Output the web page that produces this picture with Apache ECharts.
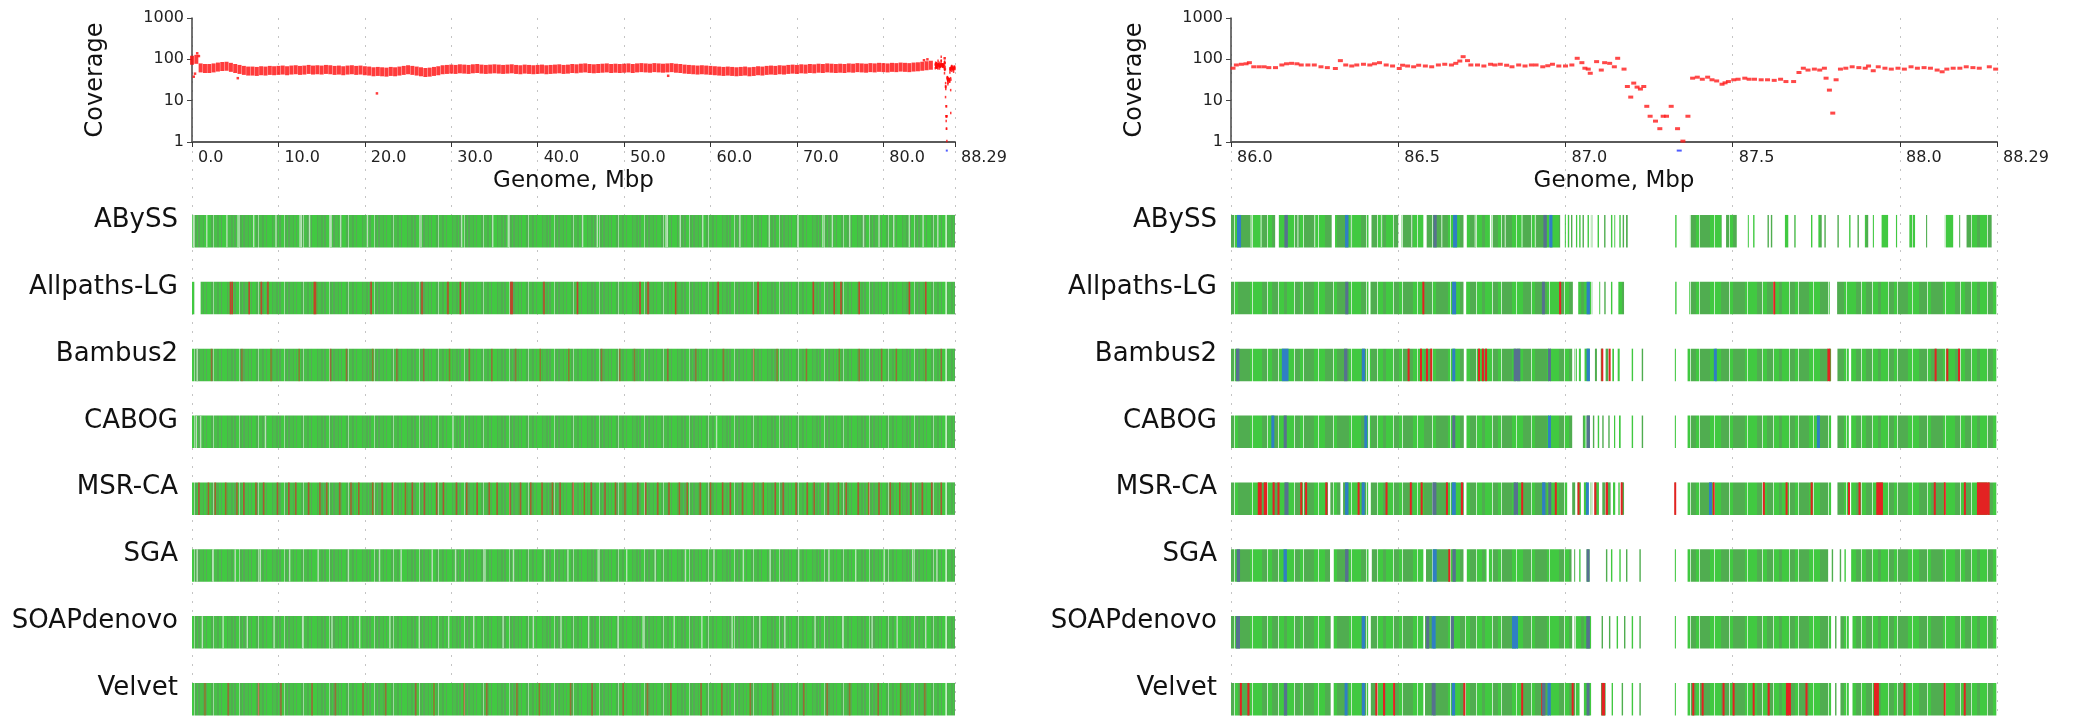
<!DOCTYPE html>
<html><head><meta charset="utf-8">
<script src="https://cdn.jsdelivr.net/npm/echarts/dist/echarts.min.js"></script>
<style>html,body{margin:0;padding:0;background:#fff}#c{width:2073px;height:717px}</style>
</head><body><div id="c"></div>
<script>
// ---------------- DATA ----------------
const assemblers = ['ABySS','Allpaths-LG','Bambus2','CABOG','MSR-CA','SGA','SOAPdenovo','Velvet'];
const genomeLen = 88.29;
const leftTicks = [0,10,20,30,40,50,60,70,80,88.29];
const rightTicks = [86.0,86.5,87.0,87.5,88.0,88.29];
const yTicks = [1,10,100,1000];

// left coverage, 0.5 Mbp bins starting at 0.0
const leftBinSize = 0.5;
const leftCoverage = [
 95,100,62,60,60,62,65,67,68,64,
 60,57,54,52,52,51,53,52,54,53,
 54,55,53,55,56,54,55,57,55,56,
 55,57,56,54,55,53,55,56,54,55,
 53,52,50,51,50,49,51,50,52,54,
 56,54,52,50,48,49,51,53,56,57,
 58,57,59,58,57,59,60,58,57,58,
 59,58,57,58,59,57,56,58,57,56,
 57,58,56,57,58,59,57,58,60,59,
 61,62,60,59,60,61,62,60,61,60,
 61,62,60,62,63,62,61,63,62,61,
 62,63,61,60,58,57,56,55,56,55,
 54,53,52,51,52,51,50,51,52,50,
 51,53,52,54,55,54,56,55,57,58,
 57,59,58,60,59,61,60,62,61,60,
 61,60,62,61,63,62,61,63,62,64,
 63,62,64,63,65,64,63,65,66,68,
 70,72];
const leftOutlierPos = [0.2,0.35,0.6,0.8,5.3,21.4,55.1,84.7,85.1];
const leftOutlierCov = [38,45,140,120,35,15,40,95,100];

// right coverage (zoomed region 86.0 - 88.29 Mbp)
const rightPos = [86.006,86.016,86.031,86.045,86.055,86.068,86.084,86.099,86.113,86.133,86.152,86.166,86.181,86.197,86.210,86.230,86.249,86.269,86.288,86.312,86.327,86.343,86.361,86.376,86.396,86.415,86.429,86.444,86.464,86.483,86.503,86.513,86.528,86.546,86.561,86.581,86.600,86.620,86.639,86.659,86.672,86.684,86.694,86.707,86.717,86.737,86.756,86.776,86.789,86.805,86.824,86.840,86.860,86.879,86.898,86.912,86.932,86.947,86.961,86.980,87.000,87.019,87.035,87.049,87.058,87.068,87.074,87.093,87.107,87.117,87.132,87.146,87.156,87.175,87.185,87.195,87.204,87.214,87.224,87.234,87.243,87.253,87.269,87.282,87.292,87.302,87.316,87.335,87.351,87.366,87.380,87.394,87.409,87.425,87.438,87.452,87.468,87.477,87.487,87.503,87.516,87.536,87.549,87.565,87.585,87.604,87.624,87.643,87.659,87.682,87.698,87.711,87.725,87.744,87.760,87.774,87.779,87.789,87.799,87.809,87.822,87.838,87.857,87.877,87.896,87.906,87.920,87.935,87.955,87.974,87.994,88.013,88.033,88.052,88.072,88.091,88.111,88.126,88.140,88.159,88.179,88.198,88.218,88.237,88.267,88.286];
const rightCoverage = [61,73,76,78,83,66,66,66,63,63,73,78,80,78,73,73,73,66,63,60,93,73,69,73,76,73,78,83,73,69,60,72,69,66,72,69,66,73,76,73,80,91,116,93,73,73,69,76,73,76,72,66,73,69,73,73,66,70,76,69,69,73,106,83,61,58,46,88,55,83,80,66,106,58,22,12.2,26.6,21.3,19.1,22,7.3,4.2,3.2,2.1,4.2,4.2,7.3,2.1,1.05,4.2,35,37,33,37,32,30,25,27,29,32,33,35,33,33,32,32,31,33,29,29,48,61,55,58,55,61,35,18,5,32,58,61,66,63,61,69,53,66,61,58,61,58,66,61,63,61,55,50,58,61,61,66,63,61,66,58];
// zero-coverage region (drawn below the axis)
const zeroPos = [87.34];
const zeroCov = [0.62];

// ---- left panel (whole genome) tracks ----
const leftContigsCommon = [[0,87.19],[87.33,88.29]];
const allpathsLeftContigs = [[0,0.3],[1.0,87.19],[87.33,88.29]];
const abyssLeftLight = [0.16,1.71,4.04,5.33,7.14,9.72,12.5,12.65,13.6,16.0,16.1,17.2,20.3,26.5,31.2,34.8,36.6,45.2,46.9,54.85,55.0,56.5,59.1,63.4,66.8,70.1,73.0,74.1,76.1,77.7,79.5,81.2,83.0,84.6,86.3];
const allpathsLeftRed = [4.45,4.65,6.62,8.02,8.79,14.15,14.3,20.73,26.62,29.62,31.06,36.9,37.05,40.73,44.6,51.84,52.77,55.97,60.88,65.5,71.9,74.32,75.1,77.2,83.0,84.9];
const bambusLeftLight = [0.6];
const bambusLeftRed = [2.26,5.78,9.15,12.4,16.03,17.87,20.9,23.7,26.8,29.8,32.1,34.7,37.45,40.3,43.6,47.4,49.5,51.2,55.05,58.3,61.5,65.0,67.7,71.1,74.9,77.2,79.8,81.5,84.9,86.7];
const cabogLeftLight = [0.5,1.0,8.5,30.2,60.7];
const msrcaLeftRed = [0.8,1.9,2.7,3.9,5.2,6.0,7.4,8.3,9.9,11.2,12.0,13.5,14.8,15.6,17.1,18.4,19.3,20.9,22.0,23.2,24.7,25.5,26.9,28.3,29.1,30.6,31.8,33.0,34.4,35.3,36.8,38.0,39.2,40.5,41.7,42.6,44.1,45.4,46.2,47.8,49.0,50.1,51.6,52.5,53.9,55.2,56.4,57.3,58.8,60.0,61.4,62.3,63.7,65.0,66.1,67.5,68.4,69.9,71.2,72.0,73.6,74.8,75.7,77.1,78.3,79.5,80.8,81.9,83.2,84.5,85.6,86.7];
const sgaLeftLight = [0.6,2.4,5.0,7.9,11.3,14.6,18.1,21.7,24.2,27.8,30.5,33.9,37.2,40.8,43.5,47.0,50.3,53.6,57.1,60.4,63.8,66.9,70.2,73.7,76.8,80.1,83.4,86.2];
const soapLeftLight = [1.2,3.6,6.4,9.5,12.8,16.2,19.4,22.9,26.3,29.7,32.6,36.0,39.5,42.7,45.9,49.3,52.2,55.8,59.0,62.5,65.7,68.6,72.1,75.3,78.7,81.6,84.9];
const velvetLeftRed = [1.5,4.2,7.7,10.3,13.9,16.6,19.8,22.4,25.9,28.0,31.5,34.1,37.6,40.2,43.8,46.3,49.9,52.7,55.4,58.9,61.3,64.6,67.2,70.8,73.5,76.1,79.4,82.0,84.8];

// ---- right panel (86.0 - 88.29 Mbp) tracks ----
const abyssRightContigs = [[86.000,86.132],[86.142,86.301],[86.311,86.411],[86.420,86.500],[86.510,86.575],[86.585,86.695],[86.705,86.774],[86.779,86.984],[86.997,87.001],[87.007,87.011],[87.017,87.020],[87.031,87.035],[87.041,87.045],[87.051,87.055],[87.066,87.070],[87.076,87.080],[87.096,87.100],[87.116,87.119],[87.136,87.140],[87.146,87.150],[87.161,87.165],[87.171,87.175],[87.181,87.186],[87.328,87.332],[87.372,87.467],[87.480,87.512],[87.544,87.548],[87.561,87.565],[87.604,87.608],[87.614,87.618],[87.656,87.666],[87.684,87.688],[87.734,87.738],[87.756,87.766],[87.774,87.778],[87.813,87.817],[87.848,87.852],[87.873,87.877],[87.895,87.905],[87.918,87.922],[87.945,87.965],[87.988,87.992],[88.028,88.045],[88.078,88.082],[88.134,88.159],[88.177,88.181],[88.199,88.274]];
const abyssRightMarks = [[86.018,86.030,'b'],[86.160,86.170,'s'],[86.341,86.351,'b'],[86.605,86.615,'s'],[86.664,86.676,'b'],[86.934,86.944,'s'],[86.951,86.961,'b'],[86.06,86.06,'w'],[86.09,86.09,'w'],[86.20,86.20,'w'],[86.25,86.25,'w'],[86.36,86.36,'w'],[86.45,86.45,'w'],[86.54,86.54,'w'],[86.63,86.63,'w'],[86.73,86.73,'w'],[86.82,86.82,'w'],[86.87,86.87,'w'],[86.91,86.91,'w']];
const allpathsRightContigs = [[86.0,86.411],[86.417,86.695],[86.703,87.022],[87.038,87.080],[87.101,87.105],[87.116,87.120],[87.136,87.140],[87.158,87.175],[87.328,87.332],[87.370,87.790],[87.812,88.290]];
const allpathsRightMarks = [[86.342,86.350,'s'],[86.573,86.577,'r'],[86.661,86.673,'b'],[86.930,86.938,'s'],[86.982,86.986,'r'],[87.063,87.073,'b'],[87.622,87.626,'r']];
const bambusRightContigs = [[86.0,86.41],[86.415,86.696],[86.704,87.02],[87.027,87.034],[87.040,87.046],[87.057,87.072],[87.088,87.094],[87.104,87.112],[87.120,87.128],[87.140,87.145],[87.156,87.162],[87.198,87.202],[87.228,87.232],[87.326,87.330],[87.365,87.794],[87.813,87.847],[87.854,88.290]];
const bambusRightMarks = [[86.015,86.025,'s'],[86.152,86.172,'b'],[86.338,86.348,'s'],[86.392,86.400,'b'],[86.663,86.669,'b'],[86.845,86.865,'s'],[86.948,86.956,'s'],[87.063,87.073,'b'],[87.444,87.452,'b'],[86.528,86.534,'r'],[86.565,86.571,'r'],[86.583,86.589,'r'],[86.596,86.601,'r'],[86.739,86.744,'r'],[86.750,86.756,'r'],[86.760,86.765,'r'],[87.108,87.112,'r'],[87.130,87.134,'r'],[87.783,87.792,'r'],[88.105,88.108,'r'],[88.140,88.143,'r'],[88.175,88.178,'r']];
const cabogRightContigs = [[86.0,86.41],[86.415,86.696],[86.704,87.02],[87.052,87.060],[87.063,87.073],[87.082,87.086],[87.097,87.100],[87.110,87.114],[87.128,87.132],[87.145,87.150],[87.160,87.165],[87.198,87.202],[87.228,87.232],[87.326,87.330],[87.365,87.794],[87.813,87.847],[87.854,88.290]];
const cabogRightMarks = [[86.121,86.129,'b'],[86.158,86.166,'s'],[86.399,86.407,'b'],[86.662,86.670,'s'],[86.948,86.956,'b'],[87.063,87.073,'s'],[87.754,87.758,'b']];
const msrcaRightContigs = [[86.0,86.290],[86.297,86.327],[86.335,86.41],[86.418,86.696],[86.704,87.005],[87.020,87.030],[87.036,87.046],[87.055,87.065],[87.075,87.080],[87.087,87.100],[87.110,87.118],[87.120,87.135],[87.142,87.150],[87.158,87.162],[87.166,87.175],[87.326,87.330],[87.365,87.794],[87.813,87.847],[87.854,88.290]];
const msrcaRightMarks = [[86.080,86.092,'r'],[86.098,86.108,'r'],[86.125,86.130,'r'],[86.140,86.144,'r'],[86.208,86.212,'r'],[86.223,86.226,'r'],[86.283,86.287,'r'],[86.380,86.383,'r'],[86.463,86.467,'r'],[86.535,86.540,'r'],[86.568,86.572,'r'],[86.644,86.647,'r'],[86.689,86.692,'r'],[86.869,86.872,'r'],[86.969,86.973,'r'],[87.036,87.042,'r'],[87.087,87.091,'r'],[87.120,87.127,'r'],[87.166,87.170,'r'],[87.326,87.330,'r'],[87.441,87.445,'r'],[87.591,87.595,'r'],[87.659,87.663,'r'],[87.734,87.738,'r'],[87.845,87.850,'r'],[87.877,87.881,'r'],[87.929,87.949,'r'],[88.102,88.106,'r'],[88.132,88.136,'r'],[88.192,88.196,'r'],[88.230,88.268,'r'],[86.160,86.172,'s'],[86.341,86.351,'b'],[86.393,86.398,'b'],[86.602,86.614,'s'],[86.660,86.672,'b'],[86.845,86.858,'s'],[86.930,86.940,'b'],[86.950,86.956,'s'],[87.063,87.068,'b'],[87.430,87.437,'b']];
const sgaRightContigs = [[86.0,86.296],[86.306,86.411],[86.421,86.575],[86.583,86.695],[86.705,86.764],[86.771,87.018],[87.026,87.030],[87.041,87.045],[87.063,87.072],[87.121,87.125],[87.136,87.140],[87.161,87.165],[87.181,87.185],[87.221,87.225],[87.326,87.330],[87.365,87.786],[87.796,87.800],[87.820,87.824],[87.834,87.838],[87.854,88.290]];
const sgaRightMarks = [[86.017,86.027,'s'],[86.157,86.167,'b'],[86.341,86.351,'s'],[86.603,86.615,'b'],[86.651,86.654,'r'],[86.662,86.672,'s'],[87.063,87.072,'s']];
const soapRightContigs = [[86.0,86.298],[86.305,86.41],[86.418,86.575],[86.580,87.02],[87.027,87.077],[87.108,87.112],[87.130,87.134],[87.153,87.157],[87.175,87.179],[87.198,87.202],[87.221,87.225],[87.326,87.330],[87.365,87.794],[87.806,87.810],[87.822,87.847],[87.858,88.290]];
const soapRightMarks = [[86.015,86.027,'s'],[86.391,86.401,'b'],[86.584,86.592,'s'],[86.600,86.612,'b'],[86.658,86.666,'s'],[86.840,86.858,'b'],[87.062,87.073,'s']];
const velvetRightContigs = [[86.0,86.298],[86.305,86.41],[86.418,86.575],[86.580,87.042],[87.055,87.077],[87.106,87.120],[87.138,87.142],[87.168,87.172],[87.198,87.202],[87.221,87.225],[87.326,87.330],[87.365,87.794],[87.806,87.810],[87.822,87.847],[87.858,88.290]];
const velvetRightMarks = [[86.028,86.031,'r'],[86.050,86.054,'r'],[86.433,86.436,'r'],[86.456,86.459,'r'],[86.486,86.489,'r'],[86.696,86.699,'r'],[86.869,86.872,'r'],[86.929,86.932,'r'],[87.020,87.023,'r'],[87.108,87.118,'r'],[87.380,87.384,'r'],[87.408,87.412,'r'],[87.471,87.474,'r'],[87.501,87.504,'r'],[87.561,87.564,'r'],[87.606,87.609,'r'],[87.659,87.674,'r'],[87.719,87.722,'r'],[87.922,87.937,'r'],[88.012,88.015,'r'],[88.132,88.135,'r'],[88.192,88.195,'r'],[86.158,86.168,'s'],[86.340,86.348,'b'],[86.393,86.399,'b'],[86.600,86.612,'s'],[86.660,86.670,'b'],[86.930,86.940,'s'],[86.946,86.956,'b'],[87.063,87.072,'s']];

// ---------------- BUILD ----------------
const KIND = {c:0, w:1, r:2, s:3, b:4};
function pts(list, kind){ return list.map(p => [p, p, kind]); }
const leftTracks = [
  {contigs: leftContigsCommon, marks: pts(abyssLeftLight,'w')},
  {contigs: allpathsLeftContigs, marks: pts(allpathsLeftRed,'r')},
  {contigs: leftContigsCommon, marks: pts(bambusLeftLight,'w').concat(pts(bambusLeftRed,'r'))},
  {contigs: leftContigsCommon, marks: pts(cabogLeftLight,'w')},
  {contigs: leftContigsCommon, marks: pts(msrcaLeftRed,'r')},
  {contigs: leftContigsCommon, marks: pts(sgaLeftLight,'w')},
  {contigs: leftContigsCommon, marks: pts(soapLeftLight,'w')},
  {contigs: leftContigsCommon, marks: pts(velvetLeftRed,'r')}
];
const rightTracks = [
  {contigs: abyssRightContigs, marks: abyssRightMarks},
  {contigs: allpathsRightContigs, marks: allpathsRightMarks},
  {contigs: bambusRightContigs, marks: bambusRightMarks},
  {contigs: cabogRightContigs, marks: cabogRightMarks},
  {contigs: msrcaRightContigs, marks: msrcaRightMarks},
  {contigs: sgaRightContigs, marks: sgaRightMarks},
  {contigs: soapRightContigs, marks: soapRightMarks},
  {contigs: velvetRightContigs, marks: velvetRightMarks}
];
function buildItems(tracks){
  const base = [], over = [];
  tracks.forEach((t, i) => {
    t.contigs.forEach(c => base.push([c[0], c[1], i, 0]));
    t.marks.forEach(m => over.push([m[0], m[1], i, KIND[m[2]]]));
  });
  return base.concat(over);
}

// styles
const TOP0 = 1.091, BAR_H = 0.486;  // track layout in track-axis units
function stripePattern(spec){
  const w = spec.reduce((a, s) => a + s[0], 0);
  const cv = document.createElement('canvas'); cv.width = w; cv.height = 4;
  const g = cv.getContext('2d'); let x = 0;
  spec.forEach(s => { g.fillStyle = s[1]; g.fillRect(x, 0, s[0], 4); x += s[0]; });
  return {image: cv, repeat: 'repeat'};
}
const B='#41c941', D='#50ad50', L='#c4eac4', B2='#48bf48', D2='#58a858', L2='#9fd89f';
const leftFill = stripePattern([[2,B],[1,D],[3,B2],[2,D],[1,B],[2,D2],[3,B],[1,L2],[2,D],[1,B],[2,D2],[3,B2],[1,D],[2,B],[1,D2],[4,B],[2,D],[1,L2],[3,B2],[2,D],[2,B],[1,D2],[3,B]]);
const rightFill = stripePattern([[7,B],[1,L],[5,D],[3,B],[1,L],[10,D],[4,B],[1,L],[6,B],[8,D],[1,L],[3,B],[12,D],[2,B],[1,L],[9,B],[5,D],[1,L],[4,B],[6,D],[1,L],[5,B],[3,D]]);
const markColor = ['#41c941','#b8e2b8','#e32222','#56718f','#2f7fc4'];
const leftRedOpacity = [1,0.75,0.45,1,0.6,1,1,0.5];

function trackRenderer(fill, minW){
  return function(params, api){
    const s = api.value(0), e = api.value(1), t = api.value(2), k = api.value(3);
    const p1 = api.coord([s, TOP0 + t]);
    const p2 = api.coord([e, TOP0 + t + BAR_H]);
    let x = p1[0], w = p2[0] - p1[0];
    const mw = minW[k];
    if (w < mw) { x = (p1[0] + p2[0]) / 2 - mw / 2; w = mw; }
    let opacity = 1;
    if (fill === leftFill && k === 2) opacity = leftRedOpacity[t];
    return {type:'rect', shape:{x:x, y:p1[1], width:w, height:p2[1]-p1[1]},
            style:{fill: k === 0 ? fill : markColor[k], opacity: opacity}};
  };
}
function labelRenderer(xStart){
  return function(params, api){
    const t = api.value(1);
    const p = api.coord([xStart, TOP0 + t + 0.08]);
    return {type:'text', x: p[0] - 14, y: p[1],
      style:{text: assemblers[t], align:'right', verticalAlign:'middle',
             font:'26px "DejaVu Sans"', fill:'#111'}};
  };
}

const leftCovData = leftCoverage.map((v, i) => [i * leftBinSize, v]);
const leftTailData = rightPos.map((p, i) => [p, rightCoverage[i]]);
const leftOutData = leftOutlierPos.map((p, i) => [p, leftOutlierCov[i]]);
const rightCovData = rightPos.map((p, i) => [p, rightCoverage[i]]);
const zeroData = zeroPos.map((p, i) => [p, zeroCov[i]]);

function fmt(v){ return Math.abs(v - genomeLen) < 1e-6 ? '88.29' : v.toFixed(1); }
const tickFont = {fontFamily:'DejaVu Sans', fontSize:16, color:'#222'};
const split = {show:true, lineStyle:{color:'#c4c4c4', type:[2,7], width:1}};
function covX(grid, min, max, interval){
  return {type:'value', gridIndex:grid, min:min, max:max, interval:interval,
    name:'Genome, Mbp', nameLocation:'middle', nameGap:28,
    nameTextStyle:{fontFamily:'DejaVu Sans', fontSize:23, color:'#111'},
    axisLine:{show:true, onZero:false, lineStyle:{color:'#5a5a5a', width:2}},
    axisTick:{show:true, length:5, lineStyle:{color:'#333'}},
    axisLabel:Object.assign({formatter:fmt, align:'left', padding:[0,0,0,6], margin:8, interval:0}, tickFont),
    splitLine:split};
}
function covY(grid){
  return {type:'log', gridIndex:grid, min:1, max:1000, logBase:10,
    name:'Coverage', nameLocation:'middle', nameGap:84, nameRotate:90,
    nameTextStyle:{fontFamily:'DejaVu Sans', fontSize:24, color:'#111'},
    axisLine:{show:true, lineStyle:{color:'#444', width:1.5}},
    axisTick:{show:true, length:5, lineStyle:{color:'#444'}},
    axisLabel:Object.assign({margin:8, formatter: v => String(Math.round(v))}, tickFont),
    splitLine:{show:false}};
}
function trackX(grid, min, max, interval){
  return {type:'value', gridIndex:grid, min:min, max:max, interval:interval,
    axisLine:{show:false}, axisTick:{show:false}, axisLabel:{show:false}, splitLine:split};
}
function trackY(grid){
  return {type:'value', gridIndex:grid, min:0, max:8.6, inverse:true, show:false, splitLine:{show:false}};
}

const chart = echarts.init(document.getElementById('c'), null, {renderer:'canvas'});
chart.setOption({
  animation:false,
  backgroundColor:'#fff',
  grid:[
    {left:192, top:18, width:763, height:124},
    {left:1231, top:18, width:766, height:124},
    {left:192, top:142, width:763, height:575},
    {left:1231, top:142, width:766, height:575}
  ],
  xAxis:[covX(0,0,genomeLen,10), covX(1,86,genomeLen,0.5), trackX(2,0,genomeLen,10), trackX(3,86,genomeLen,0.5)],
  yAxis:[covY(0), covY(1), trackY(2), trackY(3)],
  series:[
    {type:'custom', xAxisIndex:2, yAxisIndex:2, data:buildItems(leftTracks), encode:{x:[0,1], y:2},
     renderItem:trackRenderer(leftFill, [1,1.4,1.6,1.6,1.6]), clip:false, silent:true},
    {type:'custom', xAxisIndex:3, yAxisIndex:3, data:buildItems(rightTracks), encode:{x:[0,1], y:2},
     renderItem:trackRenderer(rightFill, [1.4,1.3,2,3,3]), clip:false, silent:true},
    {type:'custom', xAxisIndex:2, yAxisIndex:2, data:assemblers.map((n, i) => [0, i]),
     renderItem:labelRenderer(0), clip:false, silent:true},
    {type:'custom', xAxisIndex:3, yAxisIndex:3, data:assemblers.map((n, i) => [86, i]),
     renderItem:labelRenderer(86), clip:false, silent:true},
    {type:'scatter', xAxisIndex:0, yAxisIndex:0, data:leftCovData, symbol:'rect', symbolSize:[4,9],
     itemStyle:{color:'#ff0a0a'}, silent:true},
    {type:'scatter', xAxisIndex:0, yAxisIndex:0, data:leftTailData, symbol:'rect', symbolSize:[1.5,2.5],
     itemStyle:{color:'#ff0a0a'}, silent:true},
    {type:'scatter', xAxisIndex:0, yAxisIndex:0, data:leftOutData, symbol:'rect', symbolSize:[2.5,2.5],
     itemStyle:{color:'#ff0a0a'}, silent:true},
    {type:'scatter', xAxisIndex:1, yAxisIndex:1, data:rightCovData, symbol:'rect', symbolSize:[5,3],
     itemStyle:{color:'#ff1a1a'}, silent:true},
    {type:'scatter', xAxisIndex:0, yAxisIndex:0, data:zeroData, symbol:'rect', symbolSize:[2,2],
     itemStyle:{color:'#2233ff'}, clip:false, silent:true},
    {type:'scatter', xAxisIndex:1, yAxisIndex:1, data:zeroData, symbol:'rect', symbolSize:[5,2],
     itemStyle:{color:'#2233ff'}, clip:false, silent:true}
  ]
});
</script></body></html>
